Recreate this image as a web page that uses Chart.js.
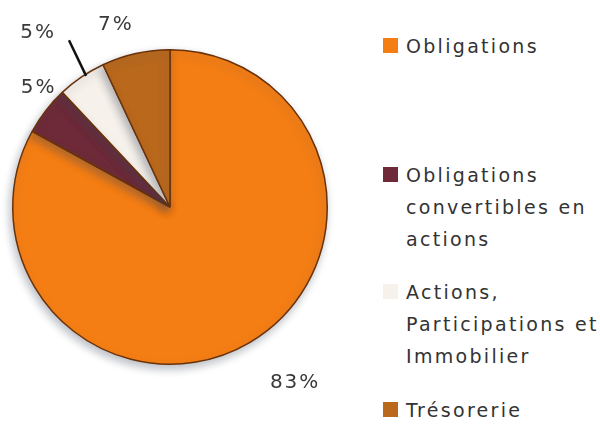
<!DOCTYPE html>
<html>
<head>
<meta charset="utf-8">
<script src="https://cdn.jsdelivr.net/npm/chart.js@4/dist/chart.umd.min.js"></script>
<style>
  html, body { margin: 0; padding: 0; background: #fff; }
  #wrap { position: relative; width: 600px; height: 424px; overflow: hidden; }
  #pie { position: absolute; left: 0; top: 0; }
  .item { position: absolute; left: 383px; font-family: "DejaVu Sans", sans-serif;
          font-size: 19px; line-height: 32px; letter-spacing: 2.3px; color: #333; }
  .item .sw { position: absolute; left: 0; top: 8px; width: 15px; height: 15px; }
  .item .txt { margin-left: 23px; width: 196px; }
</style>
</head>
<body>
<div id="wrap">
  <canvas id="pie" width="340" height="424"></canvas>
  <div id="legend"></div>
</div>
<script>
var categories = ['Obligations', 'Obligations convertibles en actions', 'Actions, Participations et Immobilier', 'Trésorerie'];
var values = [83, 5, 5, 7];
var colors = ['#f57e14', '#6e2a38', '#f6f1ea', '#b9681c'];

// where each percentage sits, relative to its slice: radius factor and angle nudge (deg)
var labelPlace = [
    { r: 1.37, da: -4.9 },
    { r: 1.13, da: 4.5 },
    { r: 1.39, da: -2.9 },
    { r: 1.21, da: -3.9 }
];

var pieShadow = {
    id: 'pieShadow',
    beforeDatasetsDraw: function (chart) {
        var ctx = chart.ctx;
        ctx.save();
        ctx.shadowColor = 'rgba(60, 70, 90, 0.35)';
        ctx.shadowBlur = 8;
        ctx.shadowOffsetX = -2;
        ctx.shadowOffsetY = 4;
    },
    afterDatasetsDraw: function (chart) {
        chart.ctx.restore();
    }
};

var pctLabels = {
    id: 'pctLabels',
    afterDraw: function (chart) {
        var ctx = chart.ctx;
        var arcs = chart.getDatasetMeta(0).data;
        ctx.save();
        ctx.font = '20px "DejaVu Sans", sans-serif';
        ctx.letterSpacing = '2px';
        ctx.fillStyle = '#3a3a3a';
        ctx.textAlign = 'center';
        ctx.textBaseline = 'middle';
        arcs.forEach(function (arc, i) {
            var p = labelPlace[i];
            var a = (arc.startAngle + arc.endAngle) / 2 + p.da * Math.PI / 180;
            var r = arc.outerRadius * p.r;
            ctx.fillText(values[i] + '%', arc.x + Math.cos(a) * r, arc.y + Math.sin(a) * r);
        });
        // leader line for the small light slice
        var arc = arcs[2];
        var mid = (arc.startAngle + arc.endAngle) / 2;
        var a1 = mid + 1.6 * Math.PI / 180, a2 = mid + 3 * Math.PI / 180;
        ctx.strokeStyle = '#111';
        ctx.lineWidth = 2.5;
        ctx.beginPath();
        ctx.moveTo(arc.x + Math.cos(a1) * arc.outerRadius * 0.99, arc.y + Math.sin(a1) * arc.outerRadius * 0.99);
        ctx.lineTo(arc.x + Math.cos(a2) * arc.outerRadius * 1.24, arc.y + Math.sin(a2) * arc.outerRadius * 1.24);
        ctx.stroke();
        ctx.restore();
    }
};

var ctx = document.getElementById('pie').getContext('2d');
var myPie = new Chart(ctx, {
    type: 'pie',
    data: {
        labels: categories,
        datasets: [{
            data: values,
            backgroundColor: colors,
            borderColor: '#6a3208',
            borderWidth: 1.5
        }]
    },
    options: {
        responsive: false,
        animation: false,
        layout: { padding: { left: 12, right: 12, top: 48, bottom: 58 } },
        plugins: {
            legend: { display: false },
            tooltip: { enabled: false }
        }
    },
    plugins: [pieShadow, pctLabels]
});

// legend at the right, one block per category
var legendTops = [30, 159, 276, 394];
var legend = document.getElementById('legend');
categories.forEach(function (name, i) {
    var item = document.createElement('div');
    item.className = 'item';
    item.style.top = legendTops[i] + 'px';
    var sw = document.createElement('div');
    sw.className = 'sw';
    sw.style.background = colors[i];
    var txt = document.createElement('div');
    txt.className = 'txt';
    txt.textContent = name;
    item.appendChild(sw);
    item.appendChild(txt);
    legend.appendChild(item);
});
</script>
</body>
</html>
